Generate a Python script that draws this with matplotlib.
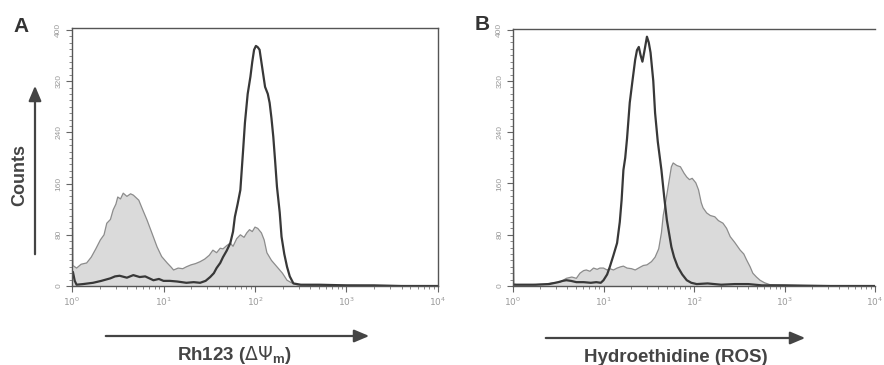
import numpy as np
import matplotlib
matplotlib.use("Agg")
import matplotlib.pyplot as plt
from matplotlib.ticker import LogLocator, NullFormatter, MultipleLocator

plt.rcParams['font.family'] = ['Liberation Sans', 'DejaVu Sans']

# --------------------------
# data (x in log10 decades, y = counts)
# --------------------------
# Panel A: Rh123
a_fill_logx = [0.00, 0.01, 0.05, 0.10, 0.16, 0.21, 0.26, 0.31, 0.35, 0.38,
               0.42, 0.45, 0.48, 0.50, 0.53, 0.56, 0.60, 0.64, 0.67, 0.70,
               0.73, 0.77, 0.82, 0.87, 0.93, 0.98, 1.04, 1.08, 1.11, 1.16,
               1.21, 1.25, 1.30, 1.35, 1.40, 1.45, 1.50, 1.54, 1.58, 1.62,
               1.65, 1.69, 1.73, 1.76, 1.80, 1.84, 1.88, 1.91, 1.94, 1.97,
               2.00, 2.03, 2.07, 2.10, 2.13, 2.18, 2.24, 2.30, 2.35, 2.40,
               2.46, 2.60, 3.00, 3.50, 4.00]
a_fill_counts = [270, 32, 28, 34, 36, 45, 58, 72, 80, 98,
                 104, 119, 128, 139, 136, 145, 140, 144, 142, 138,
                 134, 120, 103, 84, 61, 46, 36, 30, 25, 28,
                 27, 30, 33, 35, 38, 42, 48, 56, 52, 59,
                 58, 63, 67, 62, 74, 80, 76, 83, 88, 85,
                 92, 90, 83, 72, 52, 40, 30, 20, 9, 5,
                 2, 1, 1, 0, 0]
a_line_logx = [0.00, 0.01, 0.03, 0.05, 0.12, 0.23, 0.32, 0.42, 0.47, 0.52,
               0.60, 0.67, 0.74, 0.80, 0.89, 0.95, 1.00, 1.07, 1.15, 1.25,
               1.33, 1.40, 1.46, 1.51, 1.55, 1.58, 1.62, 1.65, 1.69, 1.73,
               1.76, 1.78, 1.81, 1.84, 1.87, 1.89, 1.92, 1.95, 1.97, 1.99,
               2.01, 2.03, 2.05, 2.08, 2.11, 2.14, 2.16, 2.18, 2.20, 2.22,
               2.24, 2.27, 2.29, 2.32, 2.35, 2.38, 2.42, 2.50, 2.70, 3.00,
               3.30, 3.60, 4.00]
a_line_counts = [20, 22, 8, 2, 3, 5, 8, 12, 15, 16,
                 13, 17, 14, 15, 9, 11, 8, 8, 7, 5,
                 6, 5, 8, 14, 20, 28, 36, 45, 55, 67,
                 85, 108, 128, 150, 212, 255, 300, 327, 350, 369,
                 375, 373, 369, 340, 311, 300, 286, 262, 233, 195,
                 155, 115, 77, 50, 30, 15, 4, 2, 2, 1,
                 1, 0, 0]

# Panel B: Hydroethidine
b_fill_logx = [0.00, 0.01, 0.04, 0.20, 0.35, 0.44, 0.52, 0.59, 0.65, 0.70,
               0.74, 0.78, 0.81, 0.85, 0.89, 0.93, 0.96, 1.00, 1.04, 1.07,
               1.11, 1.15, 1.19, 1.22, 1.26, 1.31, 1.35, 1.40, 1.44, 1.48,
               1.53, 1.57, 1.61, 1.64, 1.66, 1.69, 1.72, 1.75, 1.77, 1.81,
               1.85, 1.89, 1.92, 1.95, 1.98, 2.02, 2.05, 2.08, 2.10, 2.14,
               2.18, 2.23, 2.27, 2.32, 2.36, 2.40, 2.45, 2.51, 2.55, 2.58,
               2.62, 2.65, 2.69, 2.73, 2.78, 2.84, 3.00, 3.50, 4.00]
b_fill_counts = [110, 3, 2, 2, 3, 5, 6, 12, 14, 12,
                 20, 24, 25, 23, 28, 26, 28, 28, 25, 27,
                 25, 28, 30, 31, 28, 27, 25, 29, 32, 33,
                 38, 45, 58, 83, 110, 134, 160, 186, 192, 188,
                 186, 176, 170, 166, 168, 161, 150, 130, 122, 114,
                 110, 108, 102, 98, 90, 77, 68, 56, 50, 41,
                 30, 20, 14, 9, 5, 2, 1, 0, 0]
b_line_logx = [0.00, 0.10, 0.25, 0.40, 0.50, 0.55, 0.59, 0.64, 0.70, 0.78,
               0.86, 0.92, 0.97, 1.00, 1.04, 1.07, 1.11, 1.15, 1.18, 1.20,
               1.22, 1.24, 1.26, 1.29, 1.32, 1.35, 1.37, 1.39, 1.41, 1.43,
               1.45, 1.48, 1.50, 1.52, 1.55, 1.57, 1.60, 1.64, 1.67, 1.70,
               1.75, 1.78, 1.82, 1.87, 1.92, 1.97, 2.03, 2.15, 2.30, 2.45,
               2.60, 2.75, 3.00, 3.50, 4.00]
b_line_counts = [2, 2, 2, 3, 6, 8, 9, 8, 6, 6,
                 5, 6, 5, 9, 18, 30, 48, 67, 100, 134,
                 181, 200, 230, 286, 320, 353, 368, 373, 360, 350,
                 365, 389, 380, 364, 320, 270, 225, 181, 140, 103,
                 61, 45, 30, 18, 9, 5, 3, 4, 2, 3,
                 3, 1, 1, 0, 0]

y_ticks = [0, 80, 160, 240, 320, 400]
x_decades = [0, 1, 2, 3, 4]

FILL = '#dadada'
EDGE = '#8c8c8c'
LINE = '#383838'
TICKC = '#9a9a9a'

fig = plt.figure(figsize=(8.84, 3.65), dpi=100)

def panel(rect, fill_x, fill_y, line_x, line_y, ytop, right_spine):
    ax = fig.add_axes(rect)
    fx = 10 ** np.array(fill_x)
    lx = 10 ** np.array(line_x)
    ax.fill_between(fx, 0, fill_y, facecolor=FILL, edgecolor='none')
    ax.plot(fx, fill_y, color=EDGE, lw=0.9)
    ax.plot(lx, line_y, color=LINE, lw=1.6)
    ax.set_xscale('log')
    ax.set_xlim(1, 1e4)
    ax.set_ylim(0, ytop)
    ax.xaxis.set_minor_locator(LogLocator(base=10, subs=np.arange(2, 10), numticks=10))
    ax.xaxis.set_minor_formatter(NullFormatter())
    ax.set_xticks([10 ** d for d in x_decades])
    ax.set_xticklabels([f'$10^{d}$' for d in x_decades], fontsize=6.5, color=TICKC)
    ax.set_yticks(y_ticks)
    ax.set_yticklabels([str(v) for v in y_ticks], rotation=90, va='center',
                       fontsize=6, color=TICKC)
    ax.yaxis.set_minor_locator(MultipleLocator(10))
    ax.tick_params(axis='both', which='major', length=4, width=0.8, color='#666666', pad=3)
    ax.tick_params(axis='both', which='minor', length=2, width=0.6, color='#777777')
    for s in ax.spines.values():
        s.set_color('#555555')
        s.set_linewidth(1.0)
    ax.spines['right'].set_visible(right_spine)
    return ax

axA = panel([72 / 884, 79 / 365, 366 / 884, 258 / 365],
            a_fill_logx, a_fill_counts, a_line_logx, a_line_counts, 403, True)
axB = panel([513 / 884, 79 / 365, 362 / 884, 257 / 365],
            b_fill_logx, b_fill_counts, b_line_logx, b_line_counts, 401, False)

# panel letters
fig.text(21 / 884, 1 - 26 / 365, 'A', fontsize=15, fontweight='bold',
         color='#333333', ha='center', va='center')
fig.text(482 / 884, 1 - 24 / 365, 'B', fontsize=15, fontweight='bold',
         color='#333333', ha='center', va='center')

# axis arrows and labels
arrow = dict(arrowstyle='-|>,head_length=0.9,head_width=0.38', color='#444444', lw=1.6)
fig.add_artist(plt.Annotation('', xy=(35, 282), xytext=(35, 108),
                              xycoords='figure pixels', textcoords='figure pixels',
                              arrowprops=arrow))
fig.text(20 / 884, 1 - 175 / 365, 'Counts', rotation=90, fontsize=13,
         fontweight='bold', color='#444444', ha='center', va='center')

fig.add_artist(plt.Annotation('', xy=(372, 29), xytext=(103, 29),
                              xycoords='figure pixels', textcoords='figure pixels',
                              arrowprops=arrow))
fig.text(234 / 884, 10 / 365, r'Rh123 ($\Delta\Psi_\mathregular{m}$)', fontsize=13.5,
         fontweight='bold', color='#444444', ha='center', va='center')

fig.add_artist(plt.Annotation('', xy=(808, 27), xytext=(543, 27),
                              xycoords='figure pixels', textcoords='figure pixels',
                              arrowprops=arrow))
fig.text(676 / 884, 8 / 365, 'Hydroethidine (ROS)', fontsize=13.5,
         fontweight='bold', color='#444444', ha='center', va='center')

fig.savefig('out.png', dpi=100)
